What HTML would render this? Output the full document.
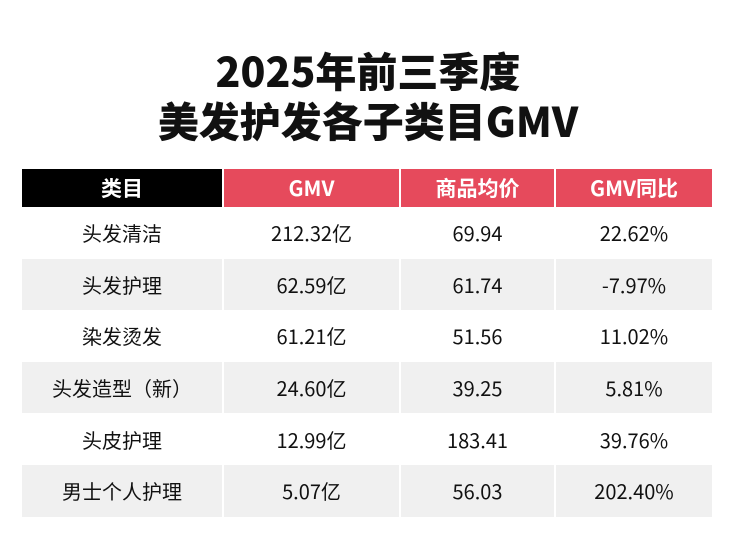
<!DOCTYPE html>
<html><head><meta charset="utf-8"><style>
body{margin:0;width:736px;height:547px;background:#fff;font-family:"Liberation Sans","Noto Sans CJK SC",sans-serif;overflow:hidden}
.t{position:absolute;left:0;width:736px;text-align:center;font-weight:900;font-size:41px;color:#111;font-family:"Noto Sans CJK SC",sans-serif}
table{position:absolute;left:20px;top:169px;border-collapse:separate;border-spacing:2px 0;width:694px}
td{text-align:center;font-size:20px;color:#111;height:51.6px;padding:0;font-family:"Noto Sans CJK SC",sans-serif}
th{height:38px;color:#fff;font-size:21px;font-weight:bold;background:#e64a5c;padding:0;font-family:"Noto Sans CJK SC",sans-serif}
th.k{background:#000}
tr.g td{background:#f0f0f0}
</style></head><body>
<div class="t" style="top:42px;line-height:54px">2025年前三季度</div>
<div class="t" style="top:92px;line-height:54px">美发护发各子类目GMV</div>
<table>
<tr><th class="k" style="width:200px">类目</th><th style="width:175px">GMV</th><th style="width:153px">商品均价</th><th>GMV同比</th></tr>
<tr><td>头发清洁</td><td>212.32亿</td><td>69.94</td><td>22.62%</td></tr>
<tr class="g"><td>头发护理</td><td>62.59亿</td><td>61.74</td><td>-7.97%</td></tr>
<tr><td>染发烫发</td><td>61.21亿</td><td>51.56</td><td>11.02%</td></tr>
<tr class="g"><td>头发造型（新）</td><td>24.60亿</td><td>39.25</td><td>5.81%</td></tr>
<tr><td>头皮护理</td><td>12.99亿</td><td>183.41</td><td>39.76%</td></tr>
<tr class="g"><td>男士个人护理</td><td>5.07亿</td><td>56.03</td><td>202.40%</td></tr>
</table>
</body></html>
